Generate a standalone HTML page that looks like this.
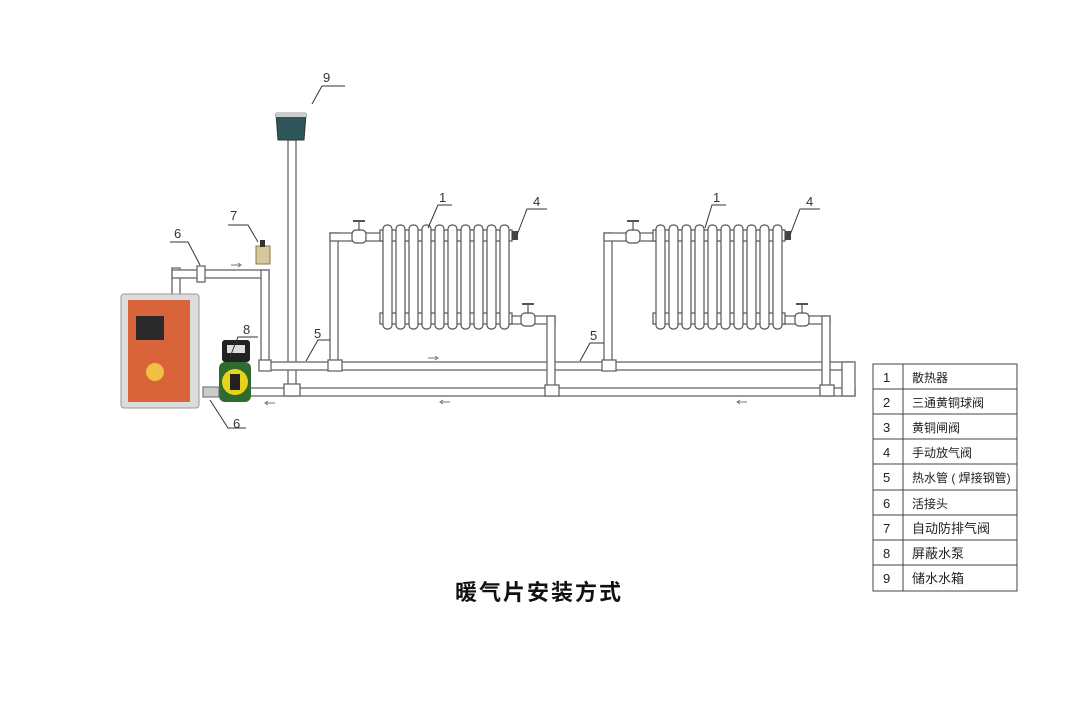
<!DOCTYPE html>
<html><head><meta charset="utf-8"><style>
body{margin:0;background:#fff;}
svg{display:block}
text{font-family:"Liberation Sans","Noto Sans CJK SC",sans-serif;}
</style></head><body>
<svg width="1083" height="702" viewBox="0 0 1083 702" xmlns="http://www.w3.org/2000/svg">
<rect width="1083" height="702" fill="#fff"/>
<g fill="#fff" stroke="#666" stroke-width="1.3">
<rect x="288" y="140" width="8" height="255"/>
<rect x="262" y="362" width="590" height="8"/>
<rect x="245" y="388" width="610" height="8"/>
<rect x="842" y="362" width="13" height="34"/>
<rect x="172" y="268" width="8" height="30"/>
<rect x="172" y="270" width="97" height="8"/>
<rect x="261" y="270" width="8" height="100"/>
<rect x="197" y="266" width="8" height="16"/>
<rect x="330" y="233" width="8" height="135"/>
<rect x="330" y="233" width="52" height="8"/>
<rect x="510" y="316" width="45" height="8"/>
<rect x="547" y="316" width="8" height="78"/>
<rect x="604" y="233" width="8" height="135"/>
<rect x="604" y="233" width="52" height="8"/>
<rect x="783" y="316" width="47" height="8"/>
<rect x="822" y="316" width="8" height="78"/>
<rect x="284" y="384" width="16" height="12"/>
<rect x="328" y="360" width="14" height="11"/>
<rect x="545" y="385" width="14" height="11"/>
<rect x="602" y="360" width="14" height="11"/>
<rect x="820" y="385" width="14" height="11"/>
<rect x="259" y="360" width="12" height="11"/>
</g>
<g fill="#fff" stroke="#555" stroke-width="1.2">
<rect x="380" y="230" width="132" height="11"/>
<rect x="380" y="313" width="132" height="11"/>
<rect x="383" y="225" width="9" height="104" rx="4"/><rect x="396" y="225" width="9" height="104" rx="4"/><rect x="409" y="225" width="9" height="104" rx="4"/><rect x="422" y="225" width="9" height="104" rx="4"/><rect x="435" y="225" width="9" height="104" rx="4"/><rect x="448" y="225" width="9" height="104" rx="4"/><rect x="461" y="225" width="9" height="104" rx="4"/><rect x="474" y="225" width="9" height="104" rx="4"/><rect x="487" y="225" width="9" height="104" rx="4"/><rect x="500" y="225" width="9" height="104" rx="4"/>
<g transform="translate(273,0)">
<rect x="380" y="230" width="132" height="11"/>
<rect x="380" y="313" width="132" height="11"/>
<rect x="383" y="225" width="9" height="104" rx="4"/><rect x="396" y="225" width="9" height="104" rx="4"/><rect x="409" y="225" width="9" height="104" rx="4"/><rect x="422" y="225" width="9" height="104" rx="4"/><rect x="435" y="225" width="9" height="104" rx="4"/><rect x="448" y="225" width="9" height="104" rx="4"/><rect x="461" y="225" width="9" height="104" rx="4"/><rect x="474" y="225" width="9" height="104" rx="4"/><rect x="487" y="225" width="9" height="104" rx="4"/><rect x="500" y="225" width="9" height="104" rx="4"/>
</g>
<g><rect x="352" y="230" width="14" height="13" rx="4"/><line x1="359" y1="230" x2="359" y2="222"/><line x1="353" y1="221" x2="365" y2="221" stroke-width="2"/></g>
<g><rect x="626" y="230" width="14" height="13" rx="4"/><line x1="633" y1="230" x2="633" y2="222"/><line x1="627" y1="221" x2="639" y2="221" stroke-width="2"/></g>
<g><rect x="521" y="313" width="14" height="13" rx="4"/><line x1="528" y1="313" x2="528" y2="305"/><line x1="522" y1="304" x2="534" y2="304" stroke-width="2"/></g>
<g><rect x="795" y="313" width="14" height="13" rx="4"/><line x1="802" y1="313" x2="802" y2="305"/><line x1="796" y1="304" x2="808" y2="304" stroke-width="2"/></g>
</g>
<rect x="512" y="231" width="6" height="9" fill="#444"/>
<rect x="785" y="231" width="6" height="9" fill="#444"/>
<path d="M276 114 L306 114 L304 140 L278 140 Z" fill="#2e5558" stroke="#333"/>
<rect x="276" y="112" width="30" height="5" fill="#ccc"/>
<rect x="256" y="246" width="14" height="18" fill="#d8c79a" stroke="#8a7a50"/>
<rect x="260" y="240" width="5" height="7" fill="#333"/>
<rect x="121" y="294" width="78" height="114" rx="3" fill="#dcdcdc" stroke="#999"/>
<rect x="128" y="300" width="62" height="102" fill="#d9643a"/>
<rect x="136" y="316" width="28" height="24" fill="#2a2a2a"/>
<circle cx="155" cy="372" r="9" fill="#f2c040"/>
<rect x="222" y="340" width="28" height="22" rx="3" fill="#222"/>
<rect x="227" y="345" width="18" height="8" fill="#ddd"/>
<rect x="219" y="362" width="32" height="40" rx="6" fill="#2f6a2f"/>
<circle cx="235" cy="382" r="13" fill="#e7d21c"/>
<rect x="230" y="374" width="10" height="16" fill="#222"/>
<rect x="203" y="387" width="16" height="10" fill="#ccc" stroke="#666"/>
<g stroke="#777" fill="none" stroke-width="1">
<path d="M231 265 L241 265 M238 263 L241 265 L238 267"/>
<path d="M428 358 L438 358 M435 356 L438 358 L435 360"/>
<path d="M265 403 L275 403 M268 401 L265 403 L268 405"/>
<path d="M440 402 L450 402 M443 400 L440 402 L443 404"/>
<path d="M737 402 L747 402 M740 400 L737 402 L740 404"/>
</g>
<g stroke="#333" stroke-width="1" fill="none">
<path d="M312 104 L322 86 L345 86"/>
<path d="M258 242 L248 225 L228 225"/>
<path d="M200 265 L188 242 L170 242"/>
<path d="M230 357 L238 337 L258 337"/>
<path d="M210 400 L228 428 L246 428"/>
<path d="M306 361 L318 340 L330 340"/>
<path d="M580 361 L590 343 L604 343"/>
<path d="M428 228 L438 205 L452 205"/>
<path d="M705 228 L712 205 L726 205"/>
<path d="M517 235 L527 209 L547 209"/>
<path d="M790 235 L800 209 L820 209"/>
</g>
<g font-size="13" fill="#333">
<text x="323" y="82">9</text><text x="230" y="220">7</text><text x="174" y="238">6</text>
<text x="243" y="334">8</text><text x="233" y="428">6</text><text x="314" y="338">5</text>
<text x="590" y="340">5</text><text x="439" y="202">1</text><text x="713" y="202">1</text>
<text x="533" y="206">4</text><text x="806" y="206">4</text>
</g>
<g stroke="#444" stroke-width="1" fill="none">
<rect x="873" y="364" width="144" height="227"/>
<line x1="903" y1="364" x2="903" y2="591"/>
<line x1="873" y1="389" x2="1017" y2="389"/><line x1="873" y1="414" x2="1017" y2="414"/>
<line x1="873" y1="439" x2="1017" y2="439"/><line x1="873" y1="464" x2="1017" y2="464"/>
<line x1="873" y1="490" x2="1017" y2="490"/><line x1="873" y1="515" x2="1017" y2="515"/>
<line x1="873" y1="540" x2="1017" y2="540"/><line x1="873" y1="565" x2="1017" y2="565"/>
</g>
<g font-size="13" fill="#222">
<text x="883" y="382">1</text><text x="883" y="407">2</text><text x="883" y="432">3</text>
<text x="883" y="457">4</text><text x="883" y="482">5</text><text x="883" y="508">6</text>
<text x="883" y="533">7</text><text x="883" y="558">8</text><text x="883" y="583">9</text>
<g font-size="12"><text x="912" y="382">散热器</text><text x="912" y="407">三通黄铜球阀</text><text x="912" y="432">黄铜闸阀</text>
<text x="912" y="457">手动放气阀</text><text x="912" y="482">热水管 ( 焊接钢管)</text><text x="912" y="508">活接头</text></g>
<g font-size="13"><text x="912" y="533">自动防排气阀</text><text x="912" y="558">屏蔽水泵</text><text x="912" y="583">储水水箱</text></g>
</g>
<text x="455" y="600" font-size="22" letter-spacing="2" fill="#111" font-weight="bold" font-family="'Noto Serif CJK SC',serif">暖气片安装方式</text>
</svg>
</body></html>
